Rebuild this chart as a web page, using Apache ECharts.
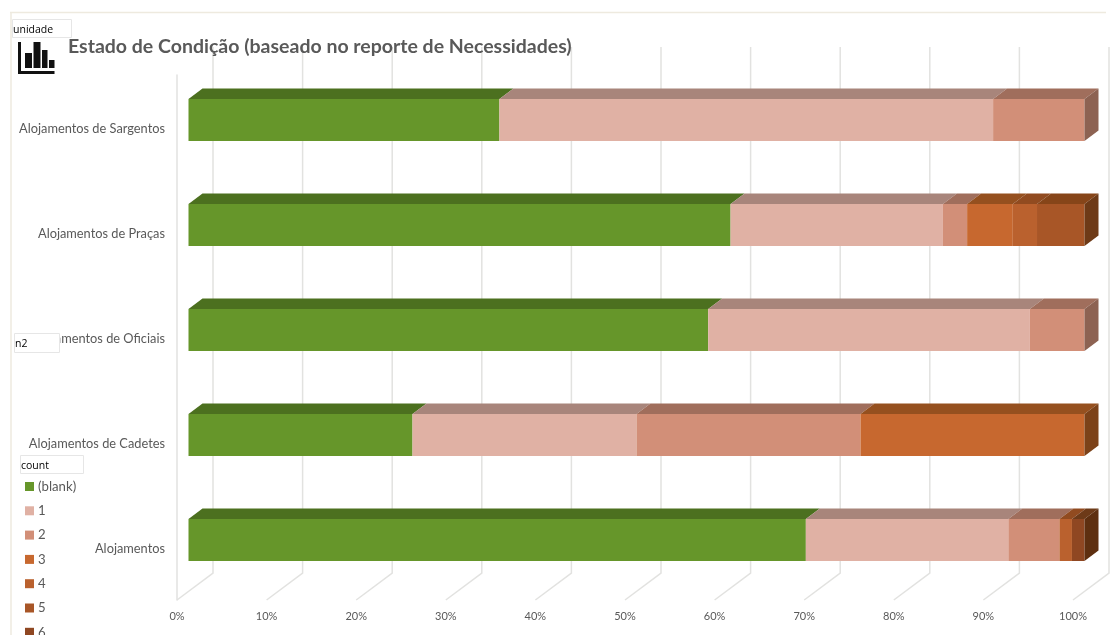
<!DOCTYPE html>
<html><head><meta charset="utf-8">
<style>html,body{margin:0;padding:0;background:#fff}#c{width:1110px;height:635px}</style>
<script src="https://cdn.jsdelivr.net/npm/echarts@6/dist/echarts.min.js"></script>
</head><body><div id="c"></div>
<script>
const categories = ['Alojamentos','Alojamentos de Cadetes','Alojamentos de Oficiais','Alojamentos de Praças','Alojamentos de Sargentos'];
const seriesNames = ['(blank)','1','2','3','4','5','6'];
const blank = [68.9, 25, 58, 60.5, 34.7];
const one   = [22.6, 25, 35.9, 23.7, 55.1];
const two   = [5.7, 25, 6.1, 2.7, 10.2];
const three = [0, 25, 0, 5.1, 0];
const four  = [1.4, 0, 0, 2.7, 0];
const five  = [0, 0, 0, 5.3, 0];
const six   = [1.4, 0, 0, 0, 0];
const xTicks = [0,10,20,30,40,50,60,70,80,90,100];
const frontColors = ['#66962A','#E0B1A4','#D28F78','#C7682F','#BA612E','#A85627','#8F4722'];
const topColors   = ['#4C701F','#A8857B','#A06E5C','#95501F','#914B20','#864519','#6D3A18'];
const sideColors  = ['#3F5D1A','#8D6F66','#8D6252','#7C4219','#77401A','#6E3A17','#5E2F10'];
const values = [blank, one, two, three, four, five, six];

const D = {barX:11.5, barY:-7.5, bh:42, dx:14, dy:10.5, wallX:36, wallY:27, wallTop:47};

function makeBarSeries(i){
  const data = categories.map((c, k) => {
    let s = 0; for (let j = 0; j < i; j++) s += values[j][k];
    return [s, s + values[i][k], k];
  }).filter(d => d[1] > d[0]);
  return {
    type:'custom', name:seriesNames[i], z:3,
    itemStyle:{color:frontColors[i]},
    encode:{x:[0,1], y:2},
    data,
    renderItem(params, api){
      const a = api.coord([api.value(0), api.value(2)]);
      const b = api.coord([api.value(1), api.value(2)]);
      const x0 = a[0] + D.barX, x1 = b[0] + D.barX;
      const y0 = a[1] + D.barY - D.bh/2, y1 = y0 + D.bh;
      const kids = [
        {type:'polygon', shape:{points:[[x0,y0],[x0+D.dx,y0-D.dy],[x1+D.dx,y0-D.dy],[x1,y0]]}, style:{fill:topColors[i]}},
        {type:'rect', shape:{x:x0,y:y0,width:x1-x0,height:D.bh}, style:{fill:frontColors[i]}}
      ];
      if (api.value(1) > 99.9) kids.push({type:'polygon', shape:{points:[[x1,y0],[x1+D.dx,y0-D.dy],[x1+D.dx,y1-D.dy],[x1,y1]]}, style:{fill:sideColors[i]}});
      return {type:'group', children:kids};
    }
  };
}

const wallSeries = {
  type:'custom', name:'grid', z:1, silent:true,
  encode:{x:0},
  data:xTicks.map(v=>[v]),
  renderItem(params, api){
    const x = api.coord([api.value(0), 0])[0];
    const bottom = params.coordSys.y + params.coordSys.height;
    return {type:'polyline', shape:{points:[[x,bottom],[x+D.wallX,bottom-D.wallY],[x+D.wallX,D.wallTop]]},
      style:{fill:null, stroke:'#e2e2e0', lineWidth:1.5}};
  }
};

function box(x,y,w,h,txt){
  return {type:'group', z:50, children:[
    {type:'rect', z:50, shape:{x:x+.5,y:y+.5,width:w,height:h}, style:{fill:'#fff',stroke:'#e6e6e6',lineWidth:1}},
    {type:'text', z:51, x:x+1, y:y+h/2+2, style:{text:txt,fill:'#000',font:'10.5px "Open Sans", sans-serif',textVerticalAlign:'middle'}}
  ]};
}
function bk(x,y,w,h){return {type:'rect', z:50, shape:{x,y,width:w,height:h}, style:{fill:'#111'}};}

const chart = echarts.init(document.getElementById('c'), null, {renderer:'canvas'});
chart.setOption({
  animation:false,
  backgroundColor:'#fff',
  title:{text:'Estado de Condição (baseado no reporte de Necessidades)', left:68, top:37, padding:0,
    textStyle:{fontFamily:'Lato', fontWeight:'bold', fontSize:19.5, color:'#595959'}},
  grid:{left:177, right:37, top:75, height:525},
  xAxis:{type:'value', min:0, max:100, interval:10,
    axisLine:{show:false}, axisTick:{show:false}, splitLine:{show:false},
    axisLabel:{formatter:'{value}%', fontFamily:'Lato', fontSize:11, color:'#595959', margin:11}},
  yAxis:{type:'category', data:categories,
    axisLine:{show:true, lineStyle:{color:'#e2e2e0', width:1.5}}, axisTick:{show:false}, splitLine:{show:false},
    axisLabel:{interval:0, fontFamily:'Lato', fontSize:12.8, color:'#595959', margin:12, verticalAlign:'top', lineHeight:3}},
  legend:{orient:'vertical', left:25, top:479, height:200, padding:0, icon:'rect', itemWidth:9, itemHeight:9, itemGap:9.3,
    data:seriesNames, selectedMode:false,
    textStyle:{fontFamily:'Lato', fontSize:13.2, color:'#595959', lineHeight:15, padding:[0,0,0,-1]}},
  series:[wallSeries].concat(seriesNames.map((n,i)=>makeBarSeries(i))),
  graphic:[
    {type:'line', z:40, shape:{x1:10,y1:12.5,x2:1106,y2:12.5}, style:{stroke:'#eeeadf',lineWidth:1.5}},
    {type:'line', z:40, shape:{x1:11,y1:12,x2:11,y2:635}, style:{stroke:'#eeeadf',lineWidth:1.5}},
    box(12,19,59,18,'unidade'),
    box(14,333,45,19,'n2'),
    box(20,455,63,18,'count'),
    {type:'group', z:50, children:[
      bk(18,42,3,32), bk(18,71,36.5,3),
      bk(25,53,7,15), bk(33.5,42,7,26), bk(42,50,5.5,18), bk(49,60,5.5,8)
    ]}
  ]
});
</script></body></html>
